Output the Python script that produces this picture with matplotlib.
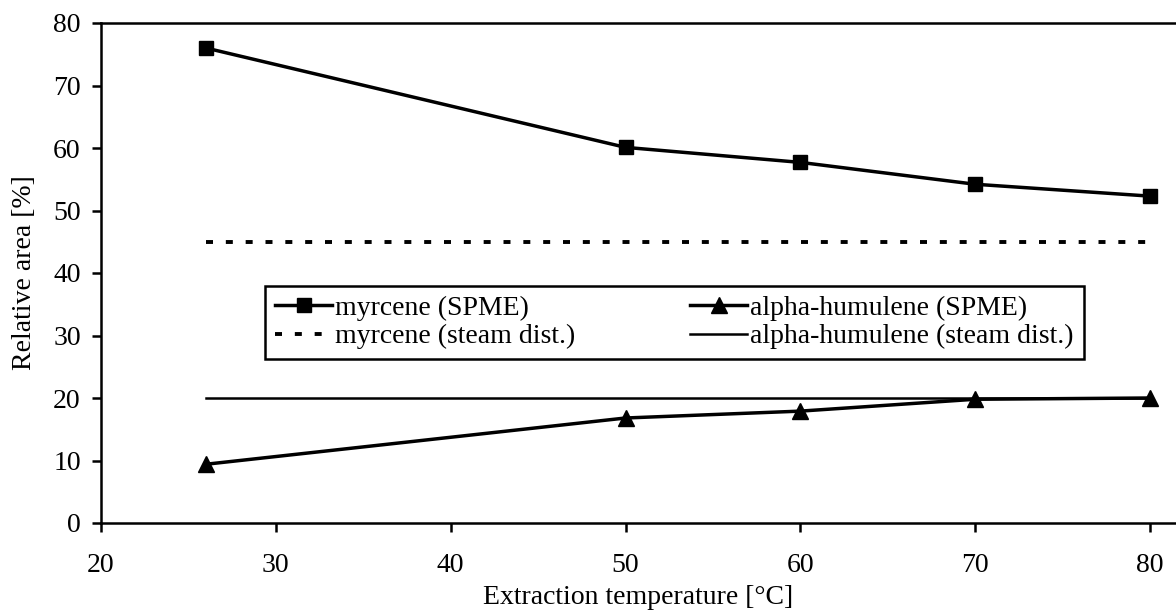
import matplotlib
matplotlib.use('Agg')
import matplotlib.pyplot as plt

# data
temp = [26, 50, 60, 70, 80]
myrcene_spme = [76.0, 60.1, 57.7, 54.2, 52.3]
humulene_spme = [9.4, 16.8, 17.9, 19.8, 20.0]
steam_x = [26, 80]
myrcene_steam = [45.0, 45.0]
humulene_steam = [20.0, 20.0]
xticks = [20, 30, 40, 50, 60, 70, 80]
yticks = [0, 10, 20, 30, 40, 50, 60, 70, 80]

plt.rcParams['font.family'] = ['Liberation Serif', 'DejaVu Serif']
plt.rcParams['font.size'] = 20

fig = plt.figure(figsize=(11.76, 6.15), dpi=100)
ax = fig.add_axes([101/1176, 1 - 523/615, 1 - 101/1176, 500/615])

ax.plot(temp, myrcene_spme, color='black', lw=2.5, marker='s', ms=9.5,
        label='myrcene (SPME)')
ax.plot(steam_x, myrcene_steam, color='black', lw=2.8, dashes=(1.8, 3.3),
        label='myrcene (steam dist.)')
ax.plot(temp, humulene_spme, color='black', lw=2.5, marker='^', ms=11,
        label='alpha-humulene (SPME)')
ax.plot(steam_x, humulene_steam, color='black', lw=1.8,
        label='alpha-humulene (steam dist.)')

ax.set_xlim(20, 20 + 1075 / (1049 / 60))
ax.set_ylim(0, 80)
ax.set_xticks(xticks)
ax.set_yticks(yticks)
ax.spines['right'].set_visible(False)
for s in ['left', 'bottom', 'top']:
    ax.spines[s].set_linewidth(1.8)
ax.tick_params(axis='both', direction='out', length=6.5, width=1.8)
ax.tick_params(axis='y', pad=8)
ax.tick_params(axis='x', pad=15)

ax.set_xlabel('Extraction temperature [°C]', labelpad=5)
ax.set_ylabel('Relative area [%]', labelpad=12)

leg = ax.legend(ncol=2, loc='center', bbox_to_anchor=(0.153, 0.33, 0.761, 0.142),
                mode='expand', fancybox=False, framealpha=1, edgecolor='black',
                handlelength=2.05, handletextpad=0.12, borderpad=0.35,
                labelspacing=0.1, columnspacing=1.0, borderaxespad=0)
leg.get_frame().set_linewidth(1.8)

fig.savefig('out.png', dpi=100)
